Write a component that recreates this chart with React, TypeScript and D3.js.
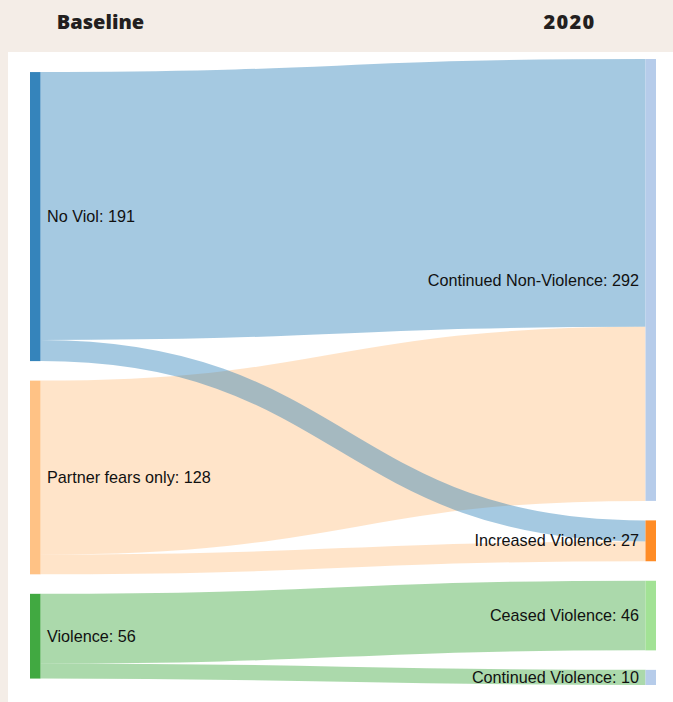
import React, { useMemo } from "react";
import * as d3 from "d3";

// ---- data ----
const nodeNames = [
  "No Viol",
  "Continued Non-Violence",
  "Increased Violence",
  "Partner fears only",
  "Violence",
  "Ceased Violence",
  "Continued Violence",
];
const linkSource = ["No Viol", "No Viol", "Partner fears only", "Partner fears only", "Violence", "Violence"];
const linkTarget = [
  "Continued Non-Violence",
  "Increased Violence",
  "Continued Non-Violence",
  "Increased Violence",
  "Ceased Violence",
  "Continued Violence",
];
const linkValue = [177, 14, 115, 13, 46, 10];
const columnTitles = ["Baseline", "2020"];
const category20 = [
  "#1f77b4", "#aec7e8", "#ff7f0e", "#ffbb78", "#2ca02c", "#98df8a",
  "#d62728", "#ff9896", "#9467bd", "#c5b0d5",
];

// ---- layout constants ----
const W = 673;
const H = 702;
const HEADER_H = 52;
const PANEL_X = 8;
const EXT_X0 = 30;
const EXT_X1 = 656;
const EXT_Y0 = 59;
const EXT_Y1 = 685;
const NODE_W = 10.5;
const NODE_PAD = 19.5;
const COLUMN_ALIGN = 0.67; // share of free space placed above a shorter column

type N = {
  name: string; value: number; layer: number; x0: number; y0: number; y1: number;
  sourceLinks: L[]; targetLinks: L[];
};
type L = { source: N; target: N; value: number; width: number; y0: number; y1: number };

function computeSankey() {
  const nodes: N[] = nodeNames.map((name) => ({
    name, value: 0, layer: 0, x0: 0, y0: 0, y1: 0, sourceLinks: [], targetLinks: [],
  }));
  const byName = new Map(nodes.map((n) => [n.name, n]));
  const links: L[] = linkValue.map((value, i) => ({
    source: byName.get(linkSource[i])!, target: byName.get(linkTarget[i])!, value, width: 0, y0: 0, y1: 0,
  }));
  links.forEach((l) => { l.source.sourceLinks.push(l); l.target.targetLinks.push(l); });
  nodes.forEach((n) => {
    n.value = Math.max(d3.sum(n.sourceLinks, (l) => l.value), d3.sum(n.targetLinks, (l) => l.value));
  });
  // layers (justified)
  let current = new Set(nodes);
  let depth = 0;
  while (current.size) {
    const next = new Set<N>();
    current.forEach((n) => { n.layer = depth; n.sourceLinks.forEach((l) => next.add(l.target)); });
    current = next;
    depth++;
  }
  const maxLayer = d3.max(nodes, (n) => n.layer)!;
  nodes.forEach((n) => { if (!n.sourceLinks.length) n.layer = maxLayer; });
  const xs = d3.scaleLinear().domain([0, maxLayer]).range([EXT_X0, EXT_X1 - NODE_W]);
  nodes.forEach((n) => (n.x0 = xs(n.layer)));

  const columns: N[][] = d3.range(maxLayer + 1).map((c) => nodes.filter((n) => n.layer === c));
  const ky = d3.min(columns, (c) => (EXT_Y1 - EXT_Y0 - (c.length - 1) * NODE_PAD) / d3.sum(c, (n) => n.value))!;
  const vy = d3.scaleLinear().domain([0, 1]).range([0, ky]);

  // pack each column and place it in the vertical extent
  for (const c of columns) {
    const total = vy(d3.sum(c, (n) => n.value)) + (c.length - 1) * NODE_PAD;
    let y = EXT_Y0 + (EXT_Y1 - EXT_Y0 - total) * COLUMN_ALIGN;
    for (const n of c) {
      n.y0 = y;
      n.y1 = y + vy(n.value);
      y = n.y1 + NODE_PAD;
    }
  }
  links.forEach((l) => (l.width = vy(l.value)));
  for (const n of nodes) {
    n.sourceLinks.sort((a, b) => a.target.y0 - b.target.y0);
    n.targetLinks.sort((a, b) => a.source.y0 - b.source.y0);
    let a = n.y0, b = n.y0;
    for (const l of n.sourceLinks) { l.y0 = a + l.width / 2; a += l.width; }
    for (const l of n.targetLinks) { l.y1 = b + l.width / 2; b += l.width; }
  }
  return { nodes, links, maxLayer };
}

export default function App() {
  const { nodes, links, maxLayer } = useMemo(computeSankey, []);
  const color = d3.scaleOrdinal<string, string>().range(category20);
  nodeNames.forEach((nm) => color(nm.replace(/ .*/, "")));
  const linkGen = d3.linkHorizontal<any, [number, number]>()
    .source((d: any) => d.s)
    .target((d: any) => d.t);
  const sortedLinks = links.slice().sort((a, b) => b.width - a.width);
  const titleX = [100.5, 569.5];

  return (
    <svg width={W} height={H} style={{ position: "absolute", left: 0, top: 0 }}>
      <rect x={0} y={0} width={W} height={H} fill="#f4ede7" />
      <rect x={PANEL_X} y={HEADER_H} width={W - PANEL_X} height={H - HEADER_H} fill="#ffffff" />
      {columnTitles.map((t, i) => (
        <text key={t} x={titleX[i]} y={28.5} textAnchor="middle"
          style={{
            fontFamily: "'Open Sans', sans-serif", fontWeight: 800, fontSize: 20,
            letterSpacing: i === 1 ? 1.3 : 0, fill: "#231f20",
          }}>
          {t}
        </text>
      ))}
      <g>
        {sortedLinks.map((l, i) => (
          <path key={i}
            d={linkGen({
              s: [l.source.x0 + NODE_W, l.y0],
              t: [l.target.x0, l.y1],
            } as any) || ""}
            fill="none"
            stroke={color(l.source.name.replace(/ .*/, ""))}
            strokeOpacity={0.4}
            strokeWidth={Math.max(1, l.width)} />
        ))}
      </g>
      <g>
        {nodes.map((n) => (
          <g key={n.name}>
            <rect x={n.x0} y={n.y0} width={NODE_W} height={n.y1 - n.y0}
              fill={color(n.name.replace(/ .*/, ""))} fillOpacity={0.9} />
            <text
              x={n.layer < maxLayer ? n.x0 + NODE_W + 6.5 : n.x0 - 6.5}
              y={(n.y0 + n.y1) / 2}
              dy="0.35em"
              textAnchor={n.layer < maxLayer ? "start" : "end"}
              style={{ fontFamily: "'Liberation Sans', Arial, sans-serif", fontSize: 16.2, fill: "#111" }}>
              {`${n.name}: ${n.value}`}
            </text>
          </g>
        ))}
      </g>
    </svg>
  );
}
